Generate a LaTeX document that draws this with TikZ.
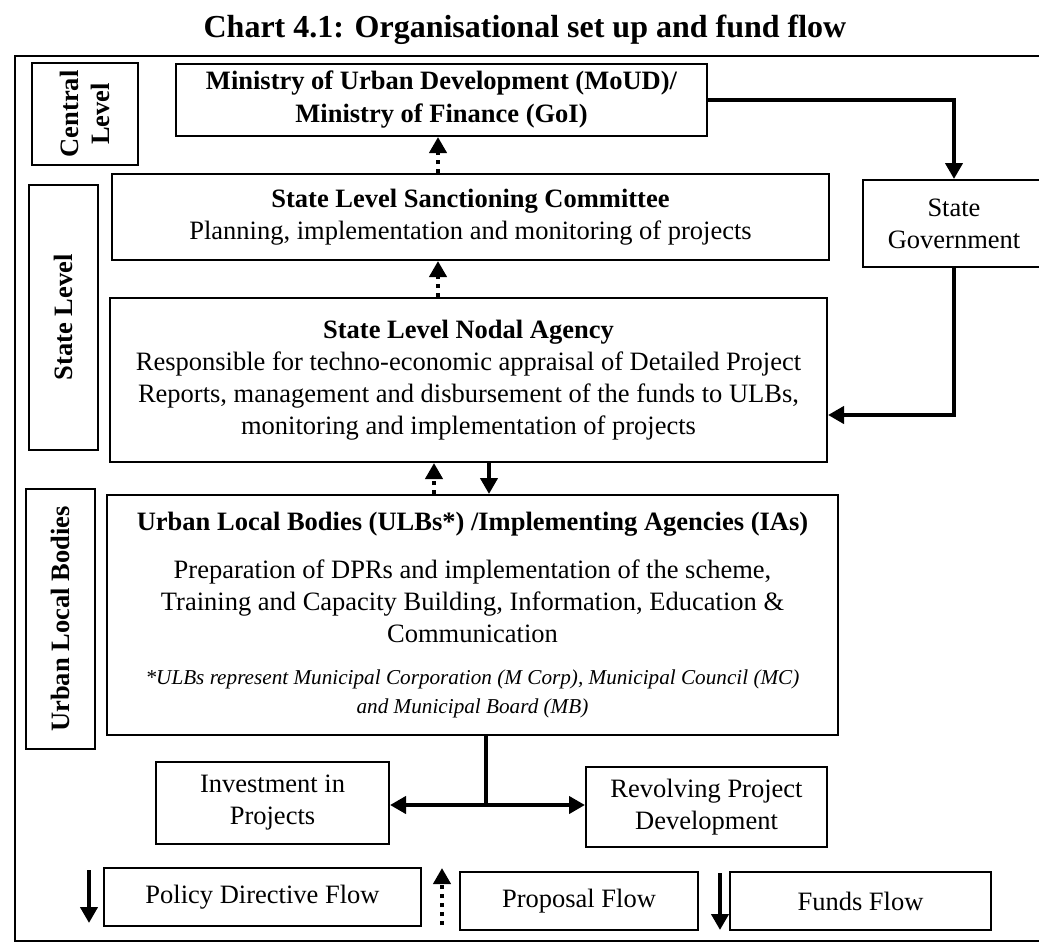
\documentclass[tikz,border=0pt]{standalone}
\usepackage{fontspec}
\setmainfont{Liberation Serif}
\usetikzlibrary{arrows.meta}

\begin{document}
\begin{tikzpicture}[x=0.5pt,y=-0.5pt,>={Triangle[length=8pt,width=8.5pt]},
                    line join=miter]
  \tikzstyle{box}=[draw,line width=1pt,inner sep=0pt,align=center,
    font=\fontsize{13.25}{16}\selectfont]
  \tikzstyle{side}=[box,rotate=90,font=\bfseries\fontsize{13.25}{15.5}\selectfont]
  \tikzstyle{heading}=[font=\bfseries\fontsize{16}{19}\selectfont]
  \tikzstyle{fund}=[line width=2pt,->]
  \tikzstyle{prop}=[line width=2pt,->,dash pattern=on 2pt off 2.5pt]

  \useasboundingbox (0,0) rectangle (1039,944);
  \clip (0,0) rectangle (1039,944);

  \node[heading] (title) at (525,30) {Chart 4.1: Organisational set up and fund flow};
  \draw[line width=1pt] (15,56) rectangle (1045,941);

  % levels
  \node[side,minimum width=51pt,minimum height=53pt]     (central)  at (85,114)    {Central\\Level};
  \node[side,minimum width=132.5pt,minimum height=34.5pt] (statelvl) at (63.5,317.5) {State Level};
  \node[side,minimum width=130pt,minimum height=34.5pt]   (ulbside)  at (60.5,619)  {Urban Local Bodies};

  % organisations
  \node[box,font=\bfseries\fontsize{13.25}{16.5}\selectfont,
        minimum width=265.5pt,minimum height=36pt] (moud) at (441.5,100)
        {Ministry of Urban Development (MoUD)/\\Ministry of Finance (GoI)};
  \node[box,minimum width=358.5pt,minimum height=43pt] (slsc) at (470.5,217)
        {\textbf{State Level Sanctioning Committee}\\
         Planning, implementation and monitoring of projects};
  \node[box,minimum width=91pt,minimum height=43.5pt] (gov) at (954,223.5)
        {State\\Government};
  \node[box,minimum width=358.5pt,minimum height=82pt] (slna) at (468.5,380)
        {\textbf{State Level Nodal Agency}\\
         Responsible for techno-economic appraisal of Detailed Project\\
         Reports, management and disbursement of the funds to ULBs,\\
         monitoring and implementation of projects};
  \node[box,minimum width=365.5pt,minimum height=120pt] (ulb) at (472.5,615)
        {\textbf{Urban Local Bodies (ULBs*) /Implementing Agencies (IAs)}\\[8pt]
         Preparation of DPRs and implementation of the scheme,\\
         Training and Capacity Building, Information, Education \&\\
         Communication\\[5pt]
         {\itshape\fontsize{10.6}{12.5}\selectfont *ULBs represent Municipal Corporation (M Corp), Municipal Council (MC)}\\[-1.5pt]
         {\itshape\fontsize{10.6}{12.5}\selectfont and Municipal Board (MB)}};
  \node[box,minimum width=116.5pt,minimum height=41pt] (invest) at (272.5,803)
        {Investment in\\Projects};
  \node[box,minimum width=120.5pt,minimum height=40pt] (revolve) at (706.5,807)
        {Revolving Project\\Development};

  % key
  \node[box,minimum width=158.5pt,minimum height=29pt] (policy)   at (262.5,897) {Policy Directive Flow};
  \node[box,minimum width=119pt,minimum height=29pt]   (proposal) at (579,901)   {Proposal Flow};
  \node[box,minimum width=130.5pt,minimum height=29pt] (funds)    at (860.5,901) {Funds Flow};

  % flows
  \coordinate (c1) at (438,0);
  \coordinate (c2) at (434,0);
  \coordinate (c3) at (489,0);
  \draw[prop] (slsc.north -| c1) -- (moud.south -| c1);
  \draw[prop] (slna.north -| c1) -- (slsc.south -| c1);
  \draw[prop] (ulb.north -| c2) -- (slna.south -| c2);
  \draw[fund] (slna.south -| c3) -- (ulb.north -| c3);
  \draw[fund] (moud.east) -| (gov.north);
  \draw[fund] (gov.south) |- ([yshift=-17.5pt]slna.east);

  \coordinate (br) at (486,805);
  \draw[line width=2pt] (ulb.south -| br) -- (br);
  \draw[fund] (br) -- (br -| invest.east);
  \draw[fund] (br) -- (br -| revolve.west);

  \coordinate (k1) at (89,870);  \coordinate (k2) at (89,923);
  \coordinate (k3) at (442,925); \coordinate (k4) at (442,868);
  \coordinate (k5) at (720,873); \coordinate (k6) at (720,930);
  \draw[fund] (k1) -- (k2);
  \draw[prop] (k3) -- (k4);
  \draw[fund] (k5) -- (k6);
\end{tikzpicture}
\end{document}
